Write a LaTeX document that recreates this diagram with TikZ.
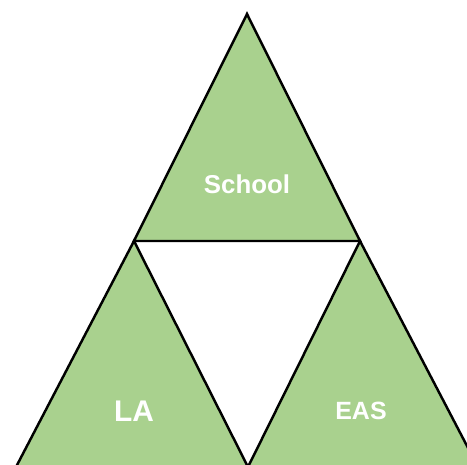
\documentclass[tikz,border=0pt]{standalone}
\usepackage{fontspec}
\setmainfont{Liberation Sans}
\definecolor{leafgreen}{RGB}{169,209,142}
\tikzset{
  part/.style={draw=black, fill=leafgreen, line width=1.4pt, line join=miter},
  tag/.style={text=white, font=\bfseries, inner sep=0pt}
}
\begin{document}
\begin{tikzpicture}[x=0.02cm, y=-0.02cm]
    \useasboundingbox (0,0) rectangle (467,465);
    \clip (0,0) rectangle (467,465);

    % Corners of the three triangles
    \coordinate (top) at (247,14);
    \coordinate (midL) at (134,241);
    \coordinate (midR) at (360,241);
    \coordinate (baseL) at (16,467);
    \coordinate (baseM) at (248,467);
    \coordinate (baseR) at (478,467);

    % School triangle
    \draw[part] (top) -- (midR) -- (midL) -- cycle;
    \node[tag, font=\fontsize{14.7}{16}\selectfont\bfseries] (school) at (247,184) {School};

    % LA triangle
    \draw[part] (midL) -- (baseM) -- (baseL) -- cycle;
    \node[tag, font=\fontsize{17}{19}\selectfont\bfseries] (la) at (134,411) {LA};

    % EAS triangle
    \draw[part] (midR) -- (baseR) -- (baseM) -- cycle;
    \node[tag, font=\fontsize{14.2}{16}\selectfont\bfseries] (eas) at (361,411) {EAS};
\end{tikzpicture}
\end{document}
